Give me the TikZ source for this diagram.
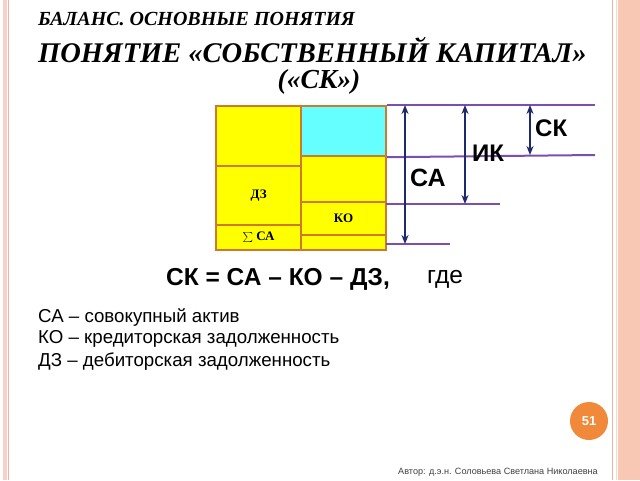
\documentclass[tikz,border=0pt]{standalone}
\usepackage{fontspec}
\setmainfont{Liberation Serif}
\newfontfamily\arial{Liberation Sans}
\usetikzlibrary{arrows.meta}
\definecolor{boxyel}{HTML}{FFFF00}
\definecolor{boxcyan}{HTML}{66FFFF}
\definecolor{boxedge}{HTML}{CC7A2E}
\definecolor{lvl}{HTML}{7A4FB0}
\definecolor{arr}{HTML}{1F2A6B}
\definecolor{peach}{HTML}{F8C8B4}
\definecolor{pinkline}{HTML}{F1B3A3}
\definecolor{badge}{HTML}{F0893A}
\tikzset{
  cell/.style={draw=boxedge, line width=2.2pt, anchor=north west, inner sep=0pt, font=\bfseries\fontsize{13}{15}\selectfont},
  level/.style={draw=lvl, line width=2pt},
  measure/.style={draw=arr, line width=2pt, {Stealth[length=9pt,width=7pt]}-{Stealth[length=9pt,width=7pt]}},
  ttl/.style={font=\bfseries\itshape\fontsize{28.5}{30}\selectfont, inner sep=0pt},
  big/.style={font=\arial\bfseries\fontsize{25}{28}\selectfont, inner sep=0pt},
  leg/.style={font=\arial\fontsize{18.7}{22}\selectfont, inner sep=0pt, anchor=west}
}
\begin{document}
\begin{tikzpicture}[x=1pt,y=-1pt]
\useasboundingbox (0,0) rectangle (640,480);
\fill[white] (0,0) rectangle (640,480);
% frame strips
\fill[peach] (618,0) rectangle (640,480);
\fill[pinkline!60] (3,0) rectangle (7,480);
\draw[pinkline, line width=1pt] (8.5,0) -- (8.5,480);
\draw[pinkline, line width=1.5pt] (612.5,0) -- (612.5,480);
\draw[pinkline!50, line width=1pt] (616,0) -- (616,480);
% title
\node[ttl, anchor=west, font=\bfseries\itshape\fontsize{20}{24}\selectfont] (t1) at (38,19) {БАЛАНС. ОСНОВНЫЕ ПОНЯТИЯ};
\node[ttl, anchor=west] (t2) at (38,50) {ПОНЯТИЕ «СОБСТВЕННЫЙ КАПИТАЛ»};
\node[ttl, font=\bfseries\itshape\fontsize{27.5}{30}\selectfont] (t3) at (319,82) {(«СК»)};
% left column
\node[cell, fill=boxyel, minimum width=85pt, minimum height=60pt] (l1) at (215,105) {};
\node[cell, fill=boxyel, minimum width=85pt, minimum height=59pt] (dz) at (215,165) {ДЗ};
\node[cell, fill=boxyel, minimum width=85pt, minimum height=25pt] (sa) at (215,224) {$\sum$ СА};
% right column
\node[cell, fill=boxcyan, minimum width=85pt, minimum height=50pt] (ck) at (300,105) {};
\node[cell, fill=boxyel, minimum width=85pt, minimum height=46pt] (r2) at (300,155) {};
\node[cell, fill=boxyel, minimum width=85pt, minimum height=33pt] (ko) at (300,201) {КО};
\node[cell, fill=boxyel, minimum width=85pt, minimum height=15pt] (r4) at (300,234) {};
% levels
\coordinate (e1) at (595,105);
\coordinate (e2) at (595,155);
\coordinate (e3) at (500,204);
\coordinate (e4) at (450,244);
\draw[level] (ck.north east) -- (e1);
\draw[level] (ck.south east) -- (e2);
\draw[level] (386,204) -- (e3);
\draw[level] (386,244) -- (e4);
% measures
\coordinate (a1t) at (405,105); \coordinate (a1b) at (405,244);
\coordinate (a2t) at (465,105); \coordinate (a2b) at (465,204);
\coordinate (a3t) at (530,105); \coordinate (a3b) at (530,155);
\draw[measure] (a1t) -- (a1b);
\draw[measure] (a2t) -- (a2b);
\draw[measure] (a3t) -- (a3b);
\node[big, anchor=west] (lsa) at (410,178) {СА};
\node[big, anchor=west, font=\arial\bfseries\fontsize{24}{27}\selectfont] (lik) at (472,153) {ИК};
\node[big, anchor=west, font=\arial\bfseries\fontsize{24}{27}\selectfont] (lck) at (535,128) {СК};
% formula
\node[font=\arial\bfseries\fontsize{24.5}{27}\selectfont, inner sep=0pt, anchor=west] (f) at (166,279) {СК = СА – КО – ДЗ,};
\node[font=\arial\fontsize{24.5}{27}\selectfont, inner sep=0pt, anchor=west] (g) at (427,279) {где};
% legend
\node[leg] (g1) at (38,317) {СА – совокупный актив};
\node[leg] (g2) at (38,339) {КО – кредиторская задолженность};
\node[leg] (g3) at (38,362) {ДЗ – дебиторская задолженность};
% badge
\node[circle, fill=badge, minimum size=38pt, inner sep=0pt, text=white, font=\arial\bfseries\fontsize{13}{15}\selectfont] (pg) at (589,421) {51};
% footer
\node[font=\arial\fontsize{9.1}{11}\selectfont, text=black!75, anchor=east, inner sep=0pt] (auth) at (598,472) {Автор: д.э.н. Соловьева Светлана Николаевна};
\end{tikzpicture}
\end{document}
